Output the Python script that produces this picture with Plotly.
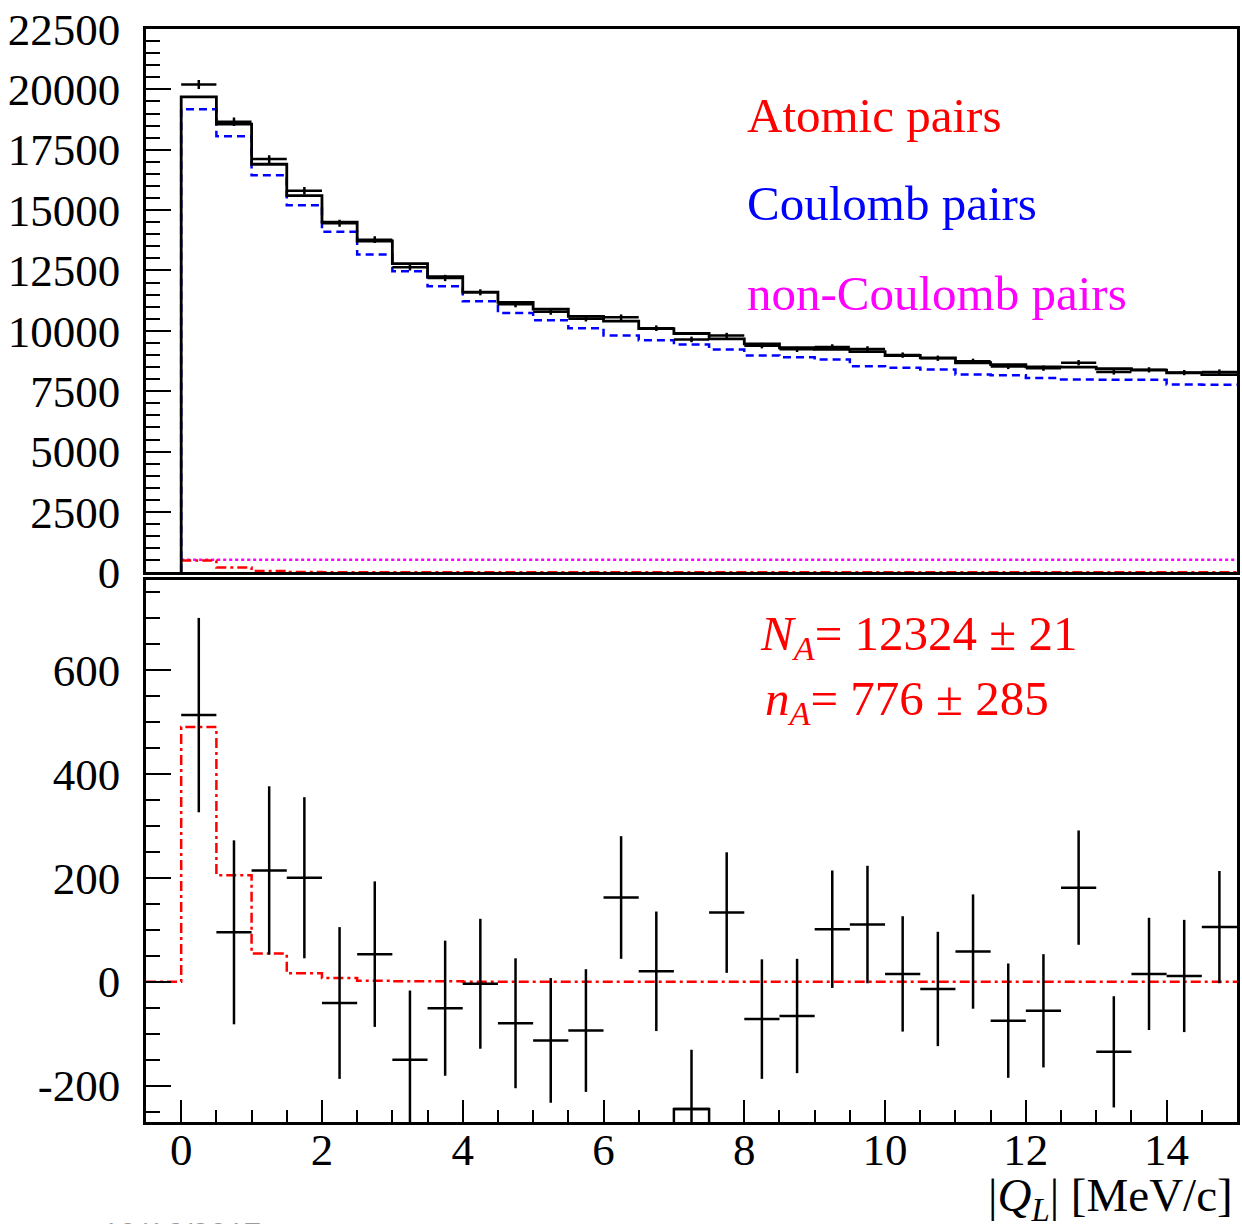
import plotly.graph_objects as go

# ---------------------------------------------------------------- data
# |Q_L| histogram: 30 bins of 0.5 MeV/c from 0 to 15
bin_edges = [0.0, 0.5, 1.0, 1.5, 2.0, 2.5, 3.0, 3.5, 4.0, 4.5, 5.0, 5.5, 6.0, 6.5, 7.0,
             7.5, 8.0, 8.5, 9.0, 9.5, 10.0, 10.5, 11.0, 11.5, 12.0, 12.5, 13.0, 13.5,
             14.0, 14.5, 15.0]

# measured pair counts per bin and their errors
counts = [20203, 18655, 17114, 15800, 14459, 13773, 12630, 12189, 11596, 11100,
          10787, 10506, 10562, 10110, 9645, 9803, 9388, 9234, 9331, 9250,
          8995, 8866, 8738, 8525, 8454, 8681, 8295, 8385, 8271, 8295]
count_err = [187, 177, 162, 155, 146, 140, 133, 130, 125, 125,
             120, 118, 118, 115, 114, 116, 115, 110, 113, 113,
             111, 110, 110, 110, 109, 110, 107, 108, 108, 108]

# fitted background (Coulomb + non-Coulomb)
background = [19690, 18560, 16900, 15600, 14500, 13720, 12780, 12240, 11600, 11180,
              10900, 10600, 10400, 10090, 9890, 9670, 9460, 9300, 9230, 9140,
              8980, 8880, 8680, 8600, 8510, 8500, 8430, 8370, 8260, 8190]

# Coulomb pairs
coulomb = [19180, 18060, 16440, 15200, 14100, 13160, 12470, 11850, 11230, 10740,
           10440, 10110, 9805, 9610, 9430, 9230, 8980, 8910, 8810, 8530,
           8470, 8400, 8190, 8160, 8050, 7990, 7980, 7970, 7780, 7770]

# non-Coulomb pairs
non_coulomb = [520, 520, 520, 520, 520, 520, 520, 520, 520, 520,
               520, 520, 520, 520, 520, 520, 520, 520, 520, 520,
               520, 520, 520, 520, 520, 520, 520, 520, 520, 520]

# atomic pairs (expected shape, n_A = 776)
atomic = [490, 205, 54, 16, 7, 2, 1, 1, 0, 0,
          0, 0, 0, 0, 0, 0, 0, 0, 0, 0,
          0, 0, 0, 0, 0, 0, 0, 0, 0, 0]

# residuals: data minus background
residual = [513, 95, 214, 200, -41, 53, -150, -51, -4, -80,
            -113, -94, 162, 20, -245, 133, -72, -66, 101, 110,
            15, -14, 58, -75, -56, 181, -135, 15, 11, 105]

top_ticks = [0, 2500, 5000, 7500, 10000, 12500, 15000, 17500, 20000, 22500]
bottom_ticks = [-200, 0, 200, 400, 600]
x_ticks = [0, 2, 4, 6, 8, 10, 12, 14]

# ---------------------------------------------------------------- helpers
half_w = [(hi - lo) / 2 for lo, hi in zip(bin_edges[:-1], bin_edges[1:])]
centers = [lo + h for lo, h in zip(bin_edges[:-1], half_w)]


def step(values, start=None):
    """Histogram outline as an 'hv' polyline over the bin edges."""
    xs = list(bin_edges)
    ys = list(values) + [values[-1]]
    if start is not None:
        xs = [start[0]] + xs
        ys = [start[1]] + ys
    return xs, ys


SERIF = "Liberation Serif"
BLACK = "#000000"
RED = "#ff0000"
BLUE = "#0000ff"
MAGENTA = "#ff00ff"

X_RANGE = [-0.5, 15]
Y1_RANGE = [0, 22500]
Y2_RANGE = [-270, 773]

fig = go.Figure()

# ---------------------------------------------------------------- top panel
x, y = step(non_coulomb)
fig.add_trace(go.Scatter(x=x, y=y, mode="lines", line_shape="hv",
                         line=dict(color=MAGENTA, width=2.5, dash="3px,3px"),
                         xaxis="x", yaxis="y", hoverinfo="skip"))
x, y = step(atomic)
fig.add_trace(go.Scatter(x=x, y=y, mode="lines", line_shape="hv",
                         line=dict(color=RED, width=2.5, dash="10px,4px,3px,4px"),
                         xaxis="x", yaxis="y", hoverinfo="skip"))
x, y = step(coulomb, start=(bin_edges[0], 0))
fig.add_trace(go.Scatter(x=x, y=y, mode="lines", line_shape="hv",
                         line=dict(color=BLUE, width=2.5, dash="8px,5px"),
                         xaxis="x", yaxis="y", hoverinfo="skip"))
x, y = step(background, start=(bin_edges[0], 0))
fig.add_trace(go.Scatter(x=x, y=y, mode="lines", line_shape="hv",
                         line=dict(color=BLACK, width=2.8),
                         xaxis="x", yaxis="y", hoverinfo="skip"))
fig.add_trace(go.Scatter(x=centers, y=counts, mode="markers",
                         marker=dict(size=1, color=BLACK),
                         error_x=dict(type="data", array=half_w, width=0,
                                      thickness=2.5, color=BLACK),
                         error_y=dict(type="data", array=count_err, width=0,
                                      thickness=2.5, color=BLACK),
                         xaxis="x", yaxis="y", hoverinfo="skip"))

# ---------------------------------------------------------------- bottom panel
x, y = step(atomic, start=(X_RANGE[0], 0))
fig.add_trace(go.Scatter(x=x, y=y, mode="lines", line_shape="hv",
                         line=dict(color=RED, width=2.5, dash="10px,4px,3px,4px"),
                         xaxis="x2", yaxis="y2", hoverinfo="skip"))
fig.add_trace(go.Scatter(x=centers, y=residual, mode="markers",
                         marker=dict(size=1, color=BLACK),
                         error_x=dict(type="data", array=half_w, width=0,
                                      thickness=2.5, color=BLACK),
                         error_y=dict(type="data", array=count_err, width=0,
                                      thickness=2.5, color=BLACK),
                         xaxis="x2", yaxis="y2", hoverinfo="skip"))

# bins sitting far below zero are outlined down to the frame
box_x, box_y = [], []
for c, h, r in zip(centers, half_w, residual):
    if r < -200:
        box_x += [c - h, c - h, c + h, c + h, None]
        box_y += [Y2_RANGE[0], r, r, Y2_RANGE[0], None]
fig.add_trace(go.Scatter(x=box_x, y=box_y, mode="lines",
                         line=dict(color=BLACK, width=2.5),
                         xaxis="x2", yaxis="y2", hoverinfo="skip"))

# ---------------------------------------------------------------- axes
TOP_DOMAIN = [0.5029, 1.0]
BOTTOM_DOMAIN = [0.0, 0.4959]

frame = dict(showline=True, linecolor=BLACK, linewidth=2.5, mirror=True,
             showgrid=False, zeroline=False)
tickfont = dict(family=SERIF, size=45, color=BLACK)

fig.update_layout(
    xaxis=dict(domain=[0, 1], range=X_RANGE, anchor="y", showticklabels=False,
               ticks="", **frame),
    yaxis=dict(domain=TOP_DOMAIN, range=Y1_RANGE, anchor="x",
               tickmode="array", tickvals=top_ticks,
               ticktext=[str(v) for v in top_ticks],
               ticks="inside", ticklen=25, tickwidth=2, tickcolor=BLACK,
               minor=dict(dtick=500, tick0=0, ticks="inside", ticklen=14,
                          tickwidth=2, tickcolor=BLACK),
               tickfont=tickfont, ticklabelstandoff=14, **frame),
    xaxis2=dict(domain=[0, 1], range=X_RANGE, anchor="y2",
                tickmode="array", tickvals=x_ticks,
                ticktext=[str(v) for v in x_ticks],
                ticks="inside", ticklen=22, tickwidth=2, tickcolor=BLACK,
                minor=dict(dtick=0.5, tick0=0, ticks="inside", ticklen=12,
                           tickwidth=2, tickcolor=BLACK),
                tickfont=tickfont, ticklabelstandoff=-14, **frame),
    yaxis2=dict(domain=BOTTOM_DOMAIN, range=Y2_RANGE, anchor="x2",
                tickmode="array", tickvals=bottom_ticks,
                ticktext=[str(v) for v in bottom_ticks],
                ticks="inside", ticklen=25, tickwidth=2, tickcolor=BLACK,
                minor=dict(dtick=50, tick0=0, ticks="inside", ticklen=14,
                           tickwidth=2, tickcolor=BLACK),
                tickfont=tickfont, ticklabelstandoff=14, **frame),
)

# ---------------------------------------------------------------- labels
PLOT_L, PLOT_R, PLOT_T, PLOT_B = 146, 1240, 29, 1122
W, H = 1242, 1224


def px(xp):
    return (xp - PLOT_L) / (PLOT_R - PLOT_L)


def py(yp):
    return (PLOT_B - yp) / (PLOT_B - PLOT_T)


def label(text, xp, yp, color, size, xanchor="left", family=SERIF):
    fig.add_annotation(text=text, x=px(xp), y=py(yp), xref="paper", yref="paper",
                       xanchor=xanchor, yanchor="middle", showarrow=False,
                       font=dict(family=family, size=size, color=color))


label("Atomic pairs", 747, 116, RED, 49)
label("Coulomb pairs", 747, 203, BLUE, 49)
label("non-Coulomb pairs", 747, 293, MAGENTA, 49)
label("<i>N</i><sub><i>A</i></sub>= 12324 ± 21", 760, 636, RED, 49)
label("<i>n</i><sub><i>A</i></sub>= 776 ± 285", 765, 701, RED, 49)
label("|<i>Q</i><sub><i>L</i></sub>| [MeV/c]", 1238, 1198, BLACK, 47, xanchor="right")
label("10/16/2017", 100, 1232, "#9a9a9a", 30, family="Open Sans")

fig.update_layout(
    width=W, height=H,
    margin=dict(l=PLOT_L, r=W - PLOT_R, t=PLOT_T, b=H - PLOT_B),
    paper_bgcolor="white", plot_bgcolor="white",
    showlegend=False,
)

fig.write_html("out.html")
